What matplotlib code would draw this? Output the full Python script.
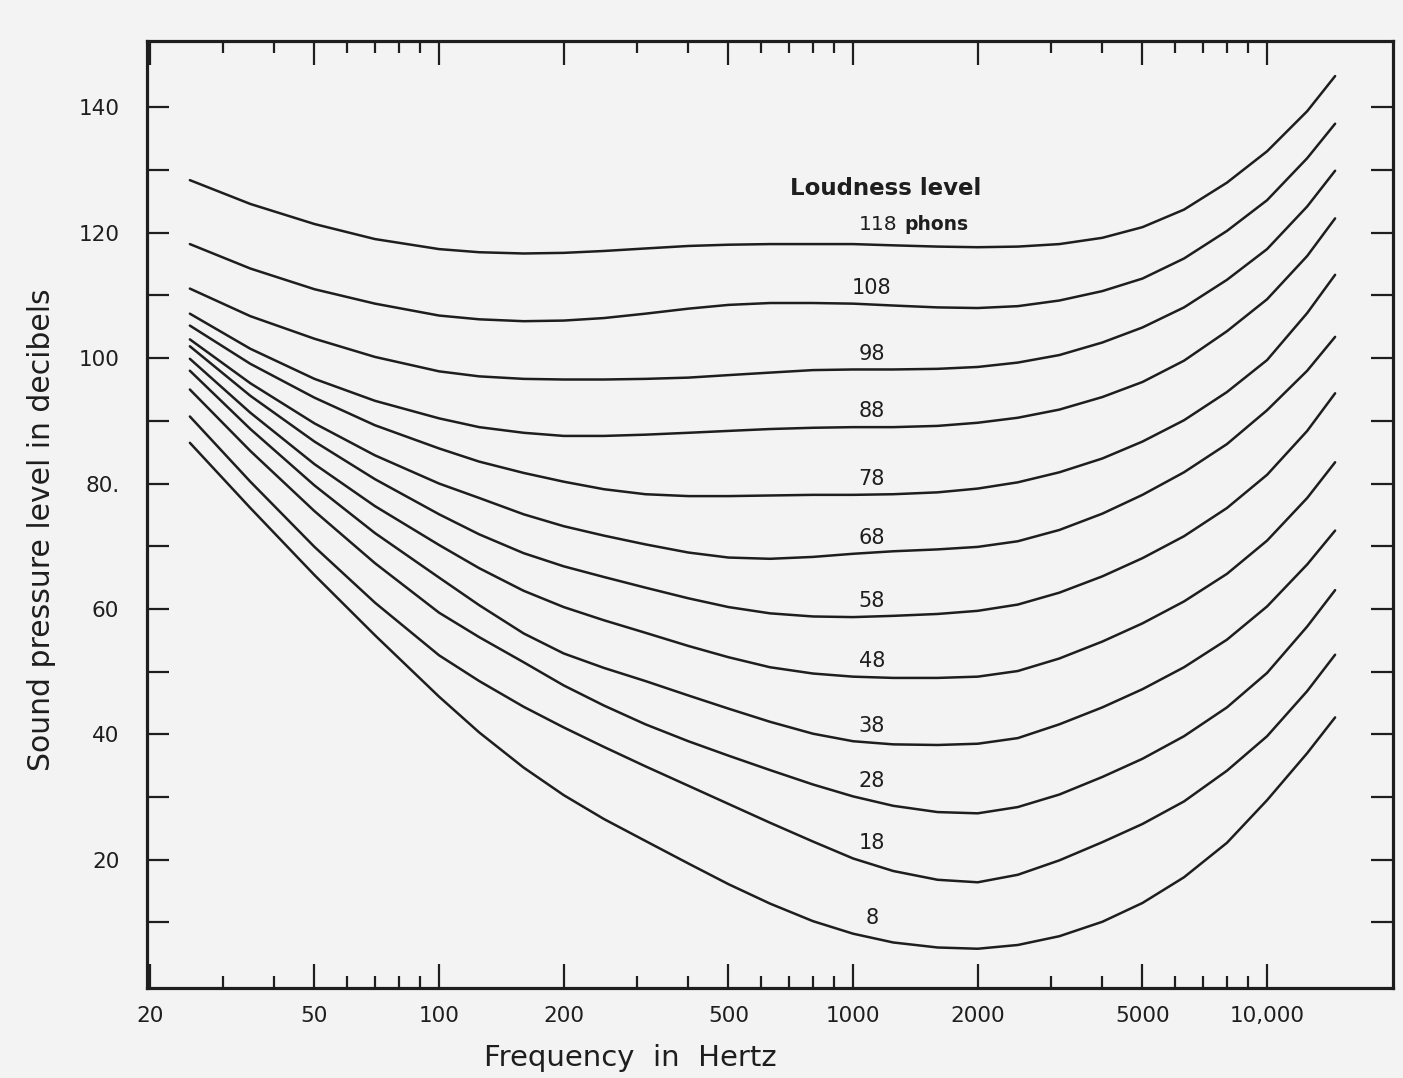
import matplotlib
matplotlib.use("Agg")
import matplotlib.pyplot as plt
from matplotlib.ticker import FixedLocator, NullLocator

# frequency grid (Hz) the contours were read at
freq = [25, 35, 50, 70, 100, 125, 160, 200, 250, 315, 400, 500, 630, 800,
        1000, 1250, 1600, 2000, 2500, 3150, 4000, 5000, 6300, 8000, 10000,
        12500, 14600]

# sound pressure level (dB) per loudness level
spl_118 = [128.4, 124.6, 121.4, 119.0, 117.4, 116.9, 116.7, 116.8, 117.1, 117.5,
           117.9, 118.1, 118.2, 118.2, 118.2, 118.0, 117.8, 117.7, 117.8, 118.2,
           119.2, 120.9, 123.7, 128.0, 133.0, 139.4, 145.0]
spl_108 = [118.2, 114.3, 111.0, 108.7, 106.8, 106.2, 105.9, 106.0, 106.4, 107.1,
           107.9, 108.5, 108.8, 108.8, 108.7, 108.4, 108.1, 108.0, 108.3, 109.2,
           110.7, 112.7, 115.9, 120.3, 125.2, 131.9, 137.4]
spl_98 = [111.1, 106.7, 103.1, 100.2, 97.9, 97.1, 96.7, 96.6, 96.6, 96.7,
          96.9, 97.3, 97.7, 98.1, 98.2, 98.2, 98.3, 98.6, 99.3, 100.5,
          102.5, 104.9, 108.1, 112.5, 117.4, 124.2, 129.9]
spl_88 = [107.1, 101.5, 96.7, 93.2, 90.4, 89.0, 88.1, 87.6, 87.6, 87.8,
          88.1, 88.4, 88.7, 88.9, 89.0, 89.0, 89.2, 89.7, 90.5, 91.8,
          93.8, 96.2, 99.6, 104.3, 109.4, 116.3, 122.3]
spl_78 = [105.2, 99.1, 93.7, 89.3, 85.6, 83.5, 81.7, 80.3, 79.1, 78.3,
          78.0, 78.0, 78.1, 78.2, 78.2, 78.3, 78.6, 79.2, 80.2, 81.8,
          84.0, 86.7, 90.1, 94.6, 99.7, 107.2, 113.3]
spl_68 = [103.0, 96.0, 89.6, 84.5, 80.0, 77.7, 75.1, 73.2, 71.7, 70.3,
          69.0, 68.2, 68.0, 68.3, 68.8, 69.2, 69.5, 69.9, 70.8, 72.6,
          75.2, 78.2, 81.8, 86.3, 91.7, 98.0, 103.4]
spl_58 = [101.9, 94.0, 86.7, 80.7, 75.1, 71.9, 68.9, 66.8, 65.1, 63.4,
          61.7, 60.3, 59.3, 58.8, 58.7, 58.9, 59.2, 59.7, 60.7, 62.6,
          65.2, 68.1, 71.6, 76.1, 81.4, 88.4, 94.4]
spl_48 = [99.9, 91.3, 83.1, 76.4, 70.2, 66.5, 62.9, 60.3, 58.2, 56.2,
          54.1, 52.3, 50.7, 49.7, 49.2, 49.0, 49.0, 49.2, 50.1, 52.1,
          54.8, 57.7, 61.2, 65.6, 70.9, 77.7, 83.4]
spl_38 = [98.0, 88.7, 79.7, 72.1, 65.0, 60.6, 56.1, 52.9, 50.6, 48.5,
          46.2, 44.1, 42.0, 40.1, 38.9, 38.4, 38.3, 38.5, 39.4, 41.6,
          44.3, 47.2, 50.7, 55.1, 60.4, 67.1, 72.5]
spl_28 = [95.0, 85.2, 75.6, 67.3, 59.4, 55.5, 51.5, 47.8, 44.6, 41.6,
          38.9, 36.6, 34.3, 32.0, 30.1, 28.6, 27.6, 27.4, 28.4, 30.4,
          33.2, 36.1, 39.7, 44.3, 49.8, 57.2, 63.0]
spl_18 = [90.7, 80.3, 69.9, 61.0, 52.6, 48.5, 44.4, 41.1, 38.0, 34.9,
          31.8, 28.9, 25.9, 22.9, 20.2, 18.2, 16.8, 16.4, 17.6, 19.9,
          22.8, 25.7, 29.3, 34.2, 39.7, 46.9, 52.7]
spl_8 = [86.5, 76.1, 65.4, 55.8, 46.0, 40.3, 34.7, 30.3, 26.5, 23.0,
         19.4, 16.1, 13.0, 10.2, 8.2, 6.8, 6.0, 5.8, 6.4, 7.8,
         10.1, 13.1, 17.2, 22.7, 29.5, 37.0, 42.7]

phons = [8, 18, 28, 38, 48, 58, 68, 78, 88, 98, 108, 118]
curves = [spl_8, spl_18, spl_28, spl_38, spl_48, spl_58, spl_68, spl_78,
          spl_88, spl_98, spl_108, spl_118]

x_major = [20, 50, 100, 200, 500, 1000, 2000, 5000, 10000]
x_labels = ["20", "50", "100", "200", "500", "1000", "2000", "5000", "10,000"]
x_minor = [30, 40, 60, 70, 80, 90, 300, 400, 600, 700, 800, 900,
           3000, 4000, 6000, 7000, 8000, 9000]
y_ticks = [10, 20, 30, 40, 50, 60, 70, 80, 90, 100, 110, 120, 130, 140]
y_labels = ["", "20", "", "40", "", "60", "", "80.", "", "100", "", "120", "", "140"]

paper = "#f3f3f3"
ink = "#1e1e1e"

fig = plt.figure(figsize=(14.03, 10.78), dpi=100, facecolor=paper)
ax = fig.add_axes([0.1048, 0.0835, 0.8881, 0.8785])
ax.set_facecolor(paper)
ax.set_xscale("log")

for spl in curves:
    ax.plot(freq, spl, color=ink, lw=1.8, solid_capstyle="round",
            solid_joinstyle="round")

ax.set_xlim(19.7, 20150)
ax.set_ylim(-0.46, 150.6)

ax.xaxis.set_major_locator(FixedLocator(x_major))
ax.xaxis.set_minor_locator(FixedLocator(x_minor))
ax.set_xticklabels(x_labels)
ax.yaxis.set_major_locator(FixedLocator(y_ticks))
ax.yaxis.set_minor_locator(NullLocator())
ax.set_yticklabels(y_labels)

ax.tick_params(axis="both", which="both", direction="in", top=True, right=True,
               labeltop=False, labelright=False, colors=ink, labelcolor=ink)
ax.tick_params(axis="y", which="major", length=16, width=1.6, pad=20, labelsize=15.5)
ax.tick_params(axis="x", which="major", length=17, width=1.6, pad=13, labelsize=15.5)
ax.tick_params(axis="x", which="minor", length=8.5, width=1.6)
for s in ax.spines.values():
    s.set_linewidth(2.3)
    s.set_color(ink)

# contour labels sit just above each curve near 1 kHz
i1k = freq.index(1000)
for p, spl in zip(phons[:-1], curves[:-1]):
    ax.text(1110, spl[i1k] + 2.5, str(p), ha="center", va="center",
            fontsize=15, color=ink)
ax.text(1035, spl_118[i1k] + 3.1, "118", ha="left", va="center",
        fontsize=14.5, color=ink)
ax.text(1330, spl_118[i1k] + 3.1, "phons", ha="left", va="center",
        fontsize=13.5, color=ink, fontweight="bold")
ax.text(1200, 127.0, "Loudness level", ha="center", va="center",
        fontsize=16.5, color=ink, fontweight="semibold")

fig.text(42 / 1403, 1 - 530 / 1078, "Sound pressure level in decibels",
         rotation=90, ha="center", va="center", fontsize=21.5, color=ink)
fig.text(630 / 1403, 1 - 1058 / 1078, "Frequency  in  Hertz",
         ha="center", va="center", fontsize=21, color=ink)

fig.savefig("out.png", dpi=100, facecolor=fig.get_facecolor())
